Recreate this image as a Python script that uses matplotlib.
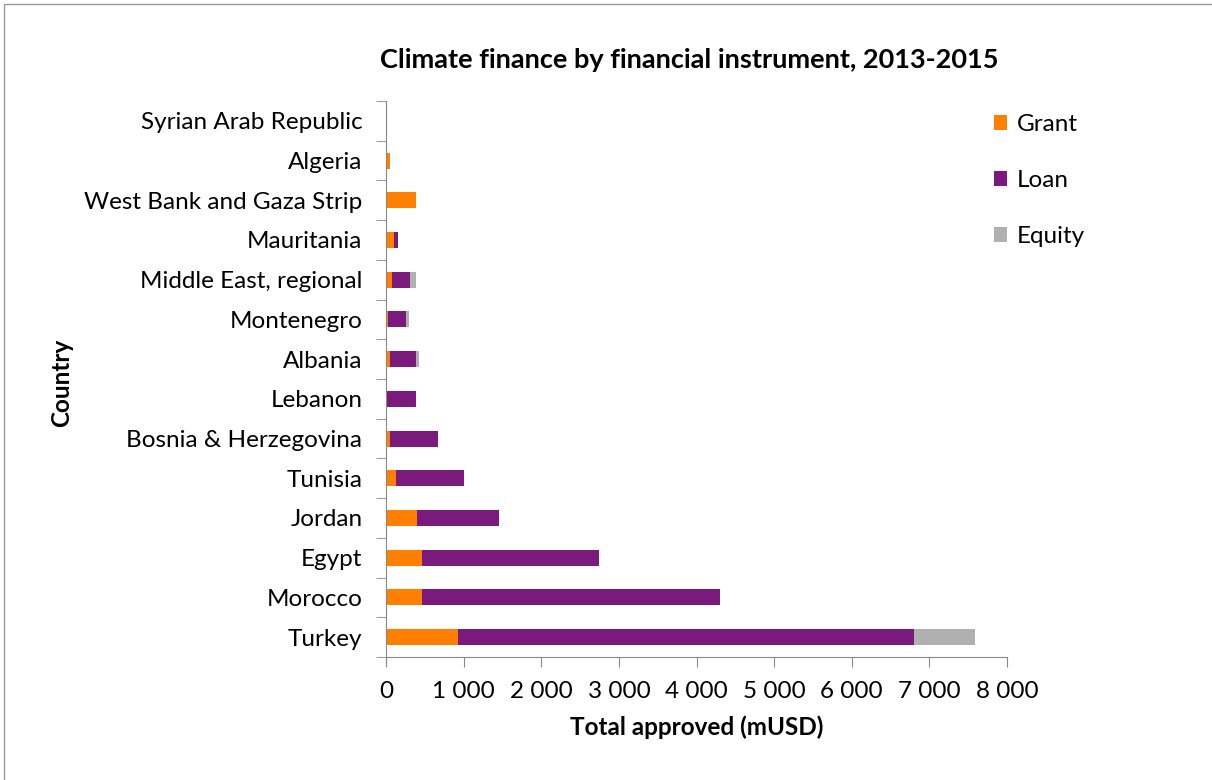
import matplotlib.pyplot as plt
import numpy as np
from matplotlib.patches import Rectangle

countries = ["Turkey", "Morocco", "Egypt", "Jordan", "Tunisia", "Bosnia & Herzegovina",
             "Lebanon", "Albania", "Montenegro", "Middle East, regional", "Mauritania",
             "West Bank and Gaza Strip", "Algeria", "Syrian Arab Republic"]
grant = [930, 460, 460, 400, 125, 55, 10, 55, 25, 75, 100, 385, 55, 0]
loan = [5870, 3840, 2290, 1060, 885, 615, 375, 330, 235, 235, 60, 0, 0, 0]
equity = [790, 0, 0, 0, 0, 0, 0, 45, 40, 75, 0, 0, 0, 0]
xticks = [0, 1000, 2000, 3000, 4000, 5000, 6000, 7000, 8000]

plt.rcParams['font.family'] = ['Lato', 'DejaVu Sans']

fig = plt.figure(figsize=(12.12, 7.8), dpi=100)
ax = fig.add_axes([386 / 1212, 1 - 657 / 780, 621 / 1212, 556 / 780])

y = np.arange(len(countries))
g = np.array(grant)
l = np.array(loan)
e = np.array(equity)
h = 0.4
ax.barh(y, g, height=h, color="#FF7F00", label="Grant")
ax.barh(y, l, left=g, height=h, color="#7A1A7C", label="Loan")
ax.barh(y, e, left=g + l, height=h, color="#B0B0B0", label="Equity")

ax.set_ylim(-0.5, len(countries) - 0.5)
ax.set_xlim(0, 8000)
ax.set_yticks(y)
ax.set_yticklabels(countries, fontsize=17.5)
ax.set_yticks(np.arange(-0.5, len(countries)), minor=True)
ax.tick_params(axis="y", which="major", length=0, pad=17)
ax.tick_params(axis="y", which="minor", length=7, color="#888888")
ax.set_xticks(xticks)
ax.set_xticklabels([f"{v:,}".replace(",", " ") for v in xticks], fontsize=17.5)
ax.tick_params(axis="x", length=7, color="#888888", pad=10)

for s in ["top", "right"]:
    ax.spines[s].set_visible(False)
for s in ["left", "bottom"]:
    ax.spines[s].set_color("#888888")

ax.set_xlabel("Total approved (mUSD)", fontsize=17.5, fontweight="bold", labelpad=10)
fig.text(62 / 1212, 1 - 383 / 780, "Country", rotation=90, fontsize=17.5,
         fontweight="bold", ha="center", va="center")
fig.text(689 / 1212, 1 - 60 / 780, "Climate finance by financial instrument, 2013-2015",
         fontsize=19.5, fontweight="bold", ha="center", va="center")

leg = fig.legend(loc="upper left", bbox_to_anchor=(972 / 1212, 1 - 92 / 780),
                 frameon=False, fontsize=17.5, labelspacing=1.45,
                 handlelength=0.55, handleheight=0.55, handletextpad=0.4)

fig.patches.append(Rectangle((4 / 1212, -0.01), 1.02, 1 - 4 / 780 + 0.01,
                             transform=fig.transFigure, fill=False,
                             edgecolor="#999999", linewidth=1))

fig.savefig("out.png", dpi=100)
